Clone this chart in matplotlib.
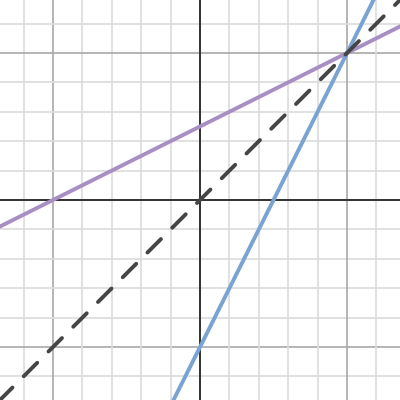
import numpy as np
import matplotlib
matplotlib.use("Agg")
import matplotlib.pyplot as plt

# Data: f(x)=2x-5, its inverse (x+5)/2, and y=x
slope_f, icpt_f = 2.0, -5.0
slope_inv, icpt_inv = 0.5, 2.5
slope_id, icpt_id = 1.0, 0.0
xlim = (-6.8, 6.8)
ylim = (-6.8, 6.8)
minor_step = 1
major_step = 5

fig = plt.figure(figsize=(4, 4), dpi=100)
ax = fig.add_axes([0, 0, 1, 1])
ax.set_xlim(*xlim)
ax.set_ylim(*ylim)
ax.axis('off')

# grid
for v in np.arange(-6, 7, minor_step):
    c = '#dcdcdc' if v % major_step else '#a8a8a8'
    if v == 0:
        continue
    ax.axvline(v, color=c, lw=1.2, zorder=0)
    ax.axhline(v, color=c, lw=1.2, zorder=0)
ax.axvline(0, color='#303030', lw=1.4, zorder=1)
ax.axhline(0, color='#303030', lw=1.4, zorder=1)

xs = np.array([-10, 10])
ax.plot(xs, slope_inv * xs + icpt_inv, color='#a58fc3', lw=2.8, solid_capstyle='round', zorder=3)
ax.plot(xs, slope_f * xs + icpt_f, color='#7aa3d3', lw=2.8, solid_capstyle='round', zorder=3)
ln, = ax.plot(xs, slope_id * xs + icpt_id, color='#454545', lw=2.8, dash_capstyle='round', zorder=4)
ln.set_dashes([4.9, 4.1])

fig.savefig('out.png', dpi=100)
